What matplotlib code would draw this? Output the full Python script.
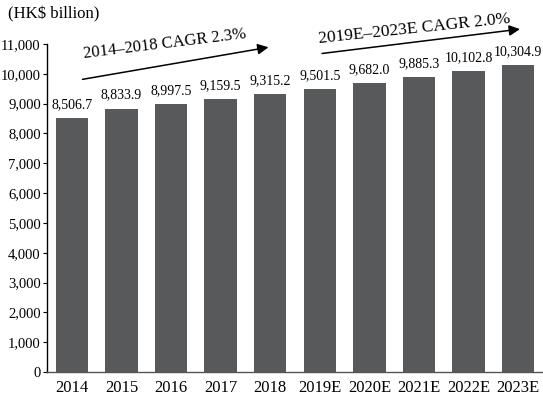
import numpy as np
import matplotlib
matplotlib.use("Agg")
import matplotlib.pyplot as plt

# Hong Kong market size by year, HK$ billion
years = ['2014', '2015', '2016', '2017', '2018',
         '2019E', '2020E', '2021E', '2022E', '2023E']
values = [8506.7, 8833.9, 8997.5, 9159.5, 9315.2,
          9501.5, 9682.0, 9885.3, 10102.8, 10304.9]
yticks = np.arange(0, 11001, 1000)

plt.rcParams['font.family'] = ['Liberation Serif', 'DejaVu Serif']

fig = plt.figure(figsize=(5.43, 4.03), dpi=100)
ax = fig.add_axes([0.0866, 0.0769, 0.9134, 0.8139])

x = np.arange(len(years))
bars = ax.bar(x, values, width=0.65, color='#58595b', zorder=2)

# value labels above each bar
for xi, v in zip(x, values):
    ax.annotate(f'{v:,.1f}', (xi, v), xytext=(0, 5), textcoords='offset points',
                ha='center', va='bottom', fontsize=10)

ax.set_xlim(-0.5, 9.5)
ax.set_ylim(0, 11000)
ax.set_xticks(x)
ax.set_xticklabels(years, fontsize=12)
ax.set_yticks(yticks)
ax.set_yticklabels([f'{t:,}' for t in yticks], fontsize=10.5)
ax.tick_params(axis='x', length=0, pad=6)
ax.tick_params(axis='y', direction='out', length=3, width=0.8, pad=1.5)

for s in ['top', 'right']:
    ax.spines[s].set_visible(False)
ax.spines['left'].set_linewidth(1.0)
ax.spines['bottom'].set_linewidth(1.0)
ax.spines['bottom'].set_color('#555555')

# growth arrows with CAGR captions
arrow = dict(arrowstyle='-|>', color='black', lw=1.1, mutation_scale=16)
ax.annotate('', xy=(4.02, 10906), xytext=(0.16, 9799), arrowprops=arrow,
            annotation_clip=False)
ax.annotate('', xy=(9.09, 11510), xytext=(4.99, 10671), arrowprops=arrow,
            annotation_clip=False)
ax.text(1.89, 10850, '2014\u20132018 CAGR 2.3%', fontsize=12, rotation=7,
        rotation_mode='anchor', ha='center', va='baseline', clip_on=False)
ax.text(6.91, 11360, '2019E\u20132023E CAGR 2.0%', fontsize=12.5, rotation=6,
        rotation_mode='anchor', ha='center', va='baseline', clip_on=False)

fig.text(0.014, 0.985, '(HK$ billion)', fontsize=12, ha='left', va='top')

fig.savefig('out.png', dpi=100)
